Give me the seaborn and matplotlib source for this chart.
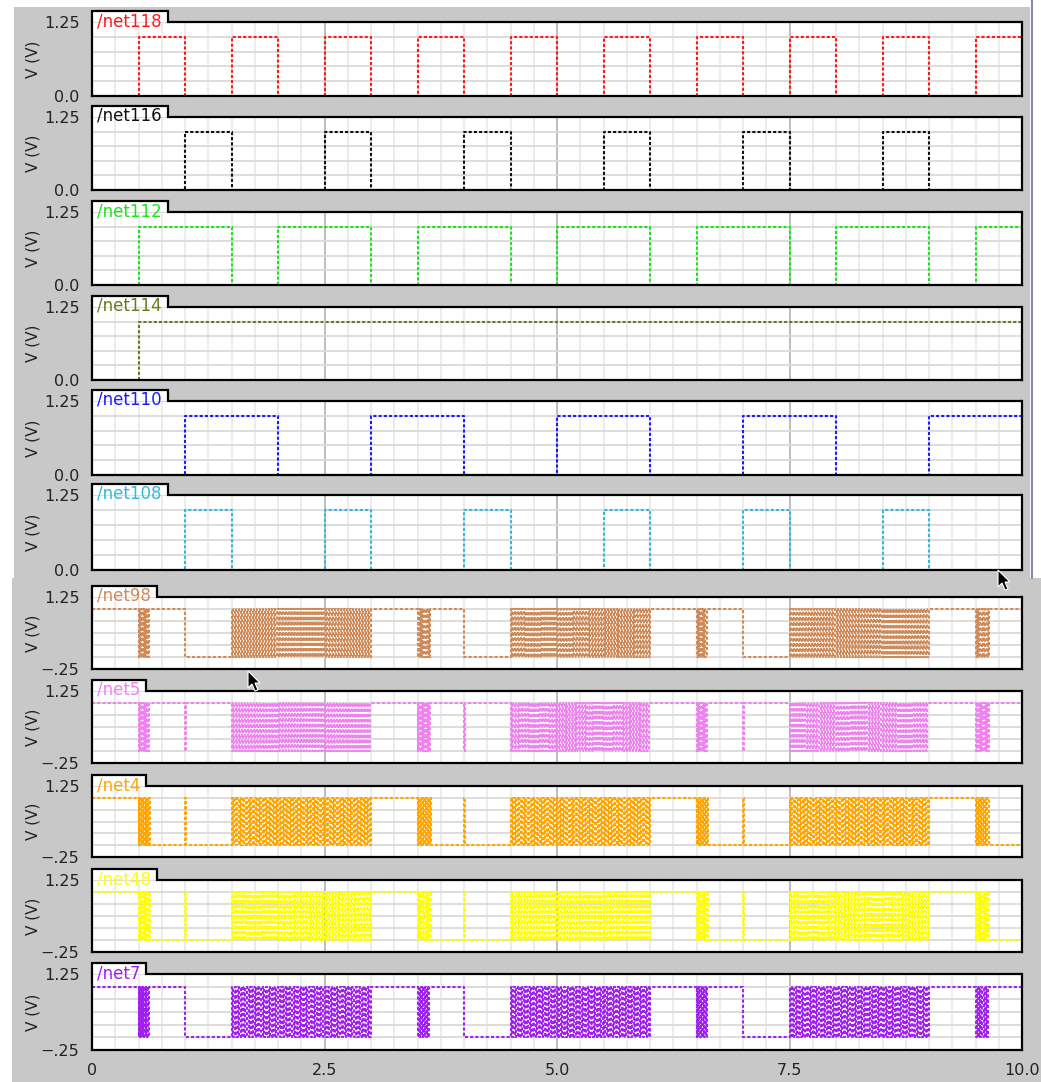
import numpy as np
import pandas as pd
import matplotlib
matplotlib.use("Agg")
import matplotlib.pyplot as plt
import seaborn as sns
from matplotlib.patches import Rectangle, Polygon
from matplotlib.lines import Line2D
from matplotlib.transforms import Affine2D

sns.set_theme(style="white")
plt.rcParams["font.family"] = ["DejaVu Sans"]

# ---------------------------------------------------------------- data
T_END = 10.0
BURST = -1  # marks a window of fast switching activity

# clock-like nets: initial level and toggle instants
net_names_top = ["/net118", "/net116", "/net112", "/net114", "/net110", "/net108"]
net_colors_top = ["#ff1a1a", "#111111", "#19e619", "#667a1f", "#1a1aff", "#33b8dd"]
net_init_top = [0, 0, 0, 0, 0, 0]
net118_edges = [0.5, 1.0, 1.5, 2.0, 2.5, 3.0, 3.5, 4.0, 4.5, 5.0,
                5.5, 6.0, 6.5, 7.0, 7.5, 8.0, 8.5, 9.0, 9.5]
net116_edges = [1.0, 1.5, 2.5, 3.0, 4.0, 4.5, 5.5, 6.0, 7.0, 7.5, 8.5, 9.0]
net112_edges = [0.5, 1.5, 2.0, 3.0, 3.5, 4.5, 5.0, 6.0, 6.5, 7.5, 8.0, 9.0, 9.5]
net114_edges = [0.5]
net110_edges = [1.0, 2.0, 3.0, 4.0, 5.0, 6.0, 7.0, 8.0, 9.0]
net108_edges = [1.0, 1.5, 2.5, 3.0, 4.0, 4.5, 5.5, 6.0, 7.0, 7.5, 8.5, 9.0]
edges_top = [net118_edges, net116_edges, net112_edges,
             net114_edges, net110_edges, net108_edges]

# decoded nets: segment boundaries, segment states, edges per burst
net_names_bot = ["/net98", "/net5", "/net4", "/net48", "/net7"]
net_colors_bot = ["#d08a58", "#ee82ee", "#ffa500", "#ffff00", "#a020f0"]

net98_bounds = [0, 0.5, 0.62, 1.0, 1.5, 3.0, 3.5, 3.65, 4.0, 4.5, 6.0,
                6.5, 6.62, 7.0, 7.5, 9.0, 9.5, 9.66, 10]
net98_states = [1, BURST, 1, 0, BURST, 1, BURST, 1, 0, BURST, 1,
                BURST, 1, 0, BURST, 1, BURST, 1]
net98_toggles = [12, 92, 12, 96, 10, 92, 12]

net5_bounds = [0, 0.5, 0.62, 1.0, 1.01, 1.5, 3.0, 3.5, 3.65, 4.0, 4.01, 4.5,
               6.0, 6.5, 6.62, 7.0, 7.01, 7.5, 9.0, 9.5, 9.66, 10]
net5_states = [1, BURST, 1, 0, 1, BURST, 1, BURST, 1, 0, 1, BURST,
               1, BURST, 1, 0, 1, BURST, 1, BURST, 1]
net5_toggles = [12, 94, 14, 98, 12, 90, 14]

net4_bounds = [0, 0.5, 0.62, 1.0, 1.01, 1.5, 3.0, 3.5, 3.65, 4.0, 4.01, 4.5,
               6.0, 6.5, 6.62, 7.0, 7.01, 7.5, 9.0, 9.5, 9.64, 10]
net4_states = [1, BURST, 0, 1, 0, BURST, 1, BURST, 0, 1, 0, BURST,
               1, BURST, 0, 1, 0, BURST, 1, BURST, 0]
net4_toggles = [14, 98, 14, 96, 12, 96, 12]

net48_bounds = [0, 0.5, 0.62, 1.0, 1.01, 1.5, 3.0, 3.5, 3.65, 4.0, 4.01, 4.5,
                6.0, 6.5, 6.62, 7.0, 7.01, 7.5, 9.0, 9.5, 9.64, 10]
net48_states = [1, BURST, 0, 1, 0, BURST, 1, BURST, 0, 1, 0, BURST,
                1, BURST, 0, 1, 0, BURST, 1, BURST, 0]
net48_toggles = [12, 96, 12, 94, 12, 98, 14]

net7_bounds = [0, 0.5, 0.62, 1.0, 1.5, 3.0, 3.5, 3.64, 4.0, 4.5, 6.0,
               6.5, 6.62, 7.0, 7.5, 9.0, 9.5, 9.65, 10]
net7_states = [1, BURST, 1, 0, BURST, 1, BURST, 1, 0, BURST, 1,
               BURST, 1, 0, BURST, 1, BURST, 1]
net7_toggles = [14, 90, 12, 94, 12, 90, 12]

bounds_bot = [net98_bounds, net5_bounds, net4_bounds, net48_bounds, net7_bounds]
states_bot = [net98_states, net5_states, net4_states, net48_states, net7_states]
toggles_bot = [net98_toggles, net5_toggles, net4_toggles, net48_toggles, net7_toggles]

x_tick_labels = ["0", "2.5", "5.0", "7.5", "10.0"]


# ---------------------------------------------------------------- waveforms
def square_wave(init, edges):
    t = [0.0]
    v = [init]
    lvl = init
    for e in edges:
        lvl = 1 - lvl
        t.append(e)
        v.append(lvl)
    t.append(T_END)
    v.append(lvl)
    return pd.DataFrame({"t": t, "v": v})


def burst_wave(bounds, states, toggles):
    t, v = [], []
    counts = iter(toggles)
    prev = 1
    for a, b, s in zip(bounds[:-1], bounds[1:], states):
        if s == BURST:
            n = next(counts)
            lvl = 1 - prev
            for k in range(n):
                t.append(a + (b - a) * k / n)
                v.append(lvl)
                lvl = 1 - lvl
            prev = 1 - lvl
        else:
            t.append(a)
            v.append(s)
            prev = s
    t.append(T_END)
    v.append(prev)
    return pd.DataFrame({"t": t, "v": v})


# ---------------------------------------------------------------- figure
W, H = 1041, 1082
fig = plt.figure(figsize=(W / 100, H / 100), dpi=100, facecolor="white")
pix = Affine2D().scale(1 / W, -1 / H).translate(0, 1) + fig.transFigure

BG = "#c8c8c8"
fig.add_artist(Rectangle((14, 7), 1016, 571, transform=pix,
                         facecolor=BG, edgecolor="none", zorder=-10))
fig.add_artist(Rectangle((12, 578), 1029, 504, transform=pix,
                         facecolor=BG, edgecolor="none", zorder=-10))
fig.add_artist(Line2D([1032, 1032], [0, 578], transform=pix,
                      color="#8a86b8", lw=1.5))

X0, X1 = 92, 1022
panel_px = [(22, 96), (117, 190), (212, 285), (307, 380), (401, 475),
            (495, 570), (597, 669), (691, 763), (786, 857), (880, 952),
            (974, 1050)]

LS = (0, (1.5, 1.0))
LW = 1.5
FS = 11.5

renderer = fig.canvas.get_renderer()


def style_axis(ax, ylo, last):
    ax.set_xlim(0, T_END)
    ax.set_ylim(ylo, 1.25)
    ax.set_facecolor("white")
    ax.set_axisbelow(True)
    ax.set_xticks(np.arange(0, T_END + 0.01, 2.5))
    ax.set_xticks(np.arange(0, T_END + 0.01, 0.25), minor=True)
    yt = np.arange(ylo, 1.2501, 0.25)
    ax.set_yticks(yt)
    lab = [""] * len(yt)
    lab[0] = "0.0" if ylo == 0 else "\u2212.25"
    lab[-1] = "1.25"
    ax.set_yticklabels(lab)
    if last:
        ax.set_xticklabels(x_tick_labels)
    else:
        ax.set_xticklabels([])
    ax.grid(True, which="minor", axis="x", color="#ebebeb", lw=1.3)
    ax.grid(True, which="major", axis="x", color="#b8b8b8", lw=1.3)
    ax.grid(True, which="major", axis="y", color="#dadada", lw=1.3)
    ax.tick_params(axis="x", which="major", direction="inout", length=11,
                   width=1.2, color="black", labelsize=FS, pad=4,
                   labelcolor="#222222")
    ax.tick_params(axis="x", which="minor", direction="in", length=4,
                   width=1.2, color="black")
    ax.tick_params(axis="y", which="major", direction="out", length=8,
                   width=1.2, color="black", labelsize=FS, pad=1,
                   labelcolor="#222222")
    for side in ["left", "right", "bottom"]:
        ax.spines[side].set_visible(True)
        ax.spines[side].set_color("black")
        ax.spines[side].set_linewidth(1.6)
    ax.spines["top"].set_visible(False)
    ax.set_xlabel("")
    ax.set_ylabel("")


def add_tab(top, bot, name, color):
    txt = fig.text(97, top - 10, name, transform=pix, color=color,
                   fontsize=12, ha="left", va="top", zorder=5)
    bb = txt.get_window_extent(renderer=renderer)
    tw = bb.width + 11
    fig.add_artist(Rectangle((X0, top - 11), tw, 11, transform=pix,
                             facecolor="white", edgecolor="none", zorder=4))
    fig.add_artist(Line2D([X0, X0, X0 + tw, X0 + tw, X1],
                          [top, top - 11, top - 11, top, top],
                          transform=pix, color="black", lw=1.6, zorder=6,
                          solid_joinstyle="miter"))
    fig.text(33, (top + bot) / 2, "V (V)", transform=pix, rotation=90,
             ha="center", va="center", fontsize=11, color="#222222")


frames = [square_wave(i, e) for i, e in zip(net_init_top, edges_top)]
frames += [burst_wave(b, s, k) for b, s, k in zip(bounds_bot, states_bot, toggles_bot)]
names = net_names_top + net_names_bot
colors = net_colors_top + net_colors_bot

for idx, ((top, bot), df, name, color) in enumerate(zip(panel_px, frames, names, colors)):
    rect = [X0 / W, 1 - bot / H, (X1 - X0) / W, (bot - top) / H]
    ax = fig.add_axes(rect)
    sns.lineplot(data=df, x="t", y="v", ax=ax, color=color, estimator=None,
                 sort=False, drawstyle="steps-post", linewidth=LW,
                 linestyle=LS, legend=False)
    ylo = 0.0 if idx < 6 else -0.25
    style_axis(ax, ylo, idx == len(panel_px) - 1)
    add_tab(top, bot, name, color)

# mouse pointers left on the screen
arrow = np.array([[0, 0], [0, 17], [4, 13], [7, 20], [10, 19], [7, 12], [12, 12]])
for tip in [(248, 671), (998, 570)]:
    fig.add_artist(Polygon(arrow + np.array(tip), closed=True, transform=pix,
                           facecolor="black", edgecolor="white", lw=0.8,
                           zorder=20))

fig.savefig("out.png", dpi=100, facecolor=fig.get_facecolor())
